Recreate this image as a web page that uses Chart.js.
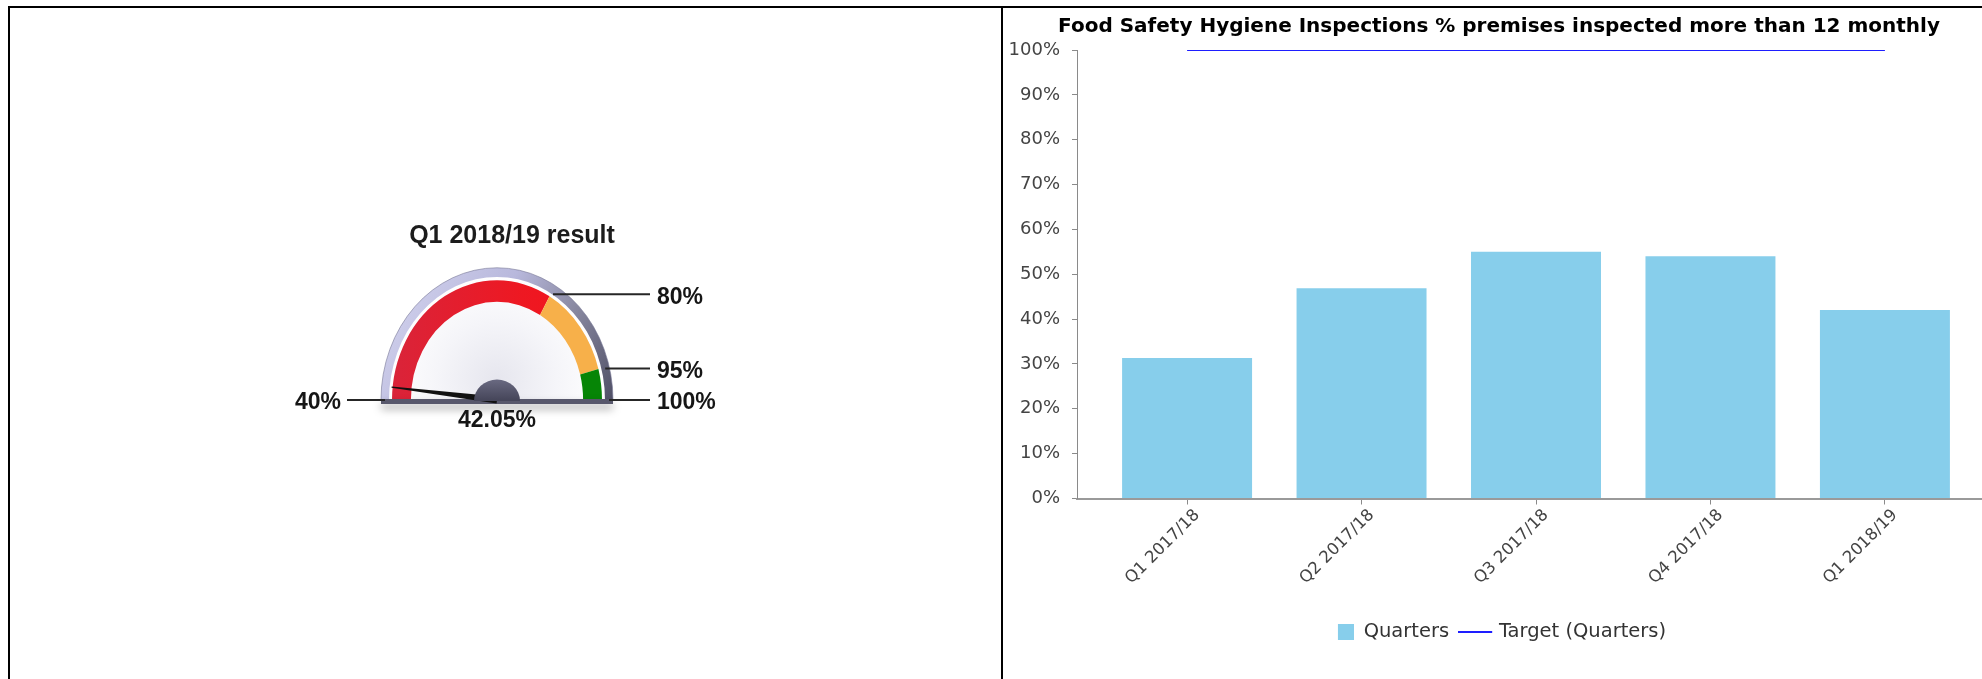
<!DOCTYPE html>
<html>
<head>
<meta charset="utf-8">
<title>Food Safety Hygiene Inspections</title>
<script src="https://cdn.jsdelivr.net/npm/chart.js@4.4.1/dist/chart.umd.min.js"></script>
<style>
  html, body { margin: 0; padding: 0; width: 1982px; height: 679px; overflow: hidden; background: #fff; }
  .rule { position: absolute; background: #000; }
  #ruleTop { left: 8px; top: 6px; width: 1974px; height: 2px; }
  #ruleLeft { left: 8px; top: 6px; width: 2px; height: 673px; }
  #ruleMid { left: 1001px; top: 6px; width: 2px; height: 673px; }
  #gaugeCanvas { position: absolute; left: 10px; top: 8px; }
  #barCanvas { position: absolute; left: 1003px; top: 8px; }
</style>
</head>
<body>
<div class="rule" id="ruleTop"></div>
<div class="rule" id="ruleLeft"></div>
<div class="rule" id="ruleMid"></div>
<canvas id="gaugeCanvas" width="991" height="671"></canvas>
<canvas id="barCanvas" width="992" height="671"></canvas>

<script>
// ---- Gauge data ----
const gaugeTitle = 'Q1 2018/19 result';
const gaugeMin = 40;
const gaugeMax = 100;
const gaugeValue = 42.05;
const bandLimits = [40, 80, 95, 100];
const bandNames = ['Below 80%', '80% to 95%', '95% to 100%'];
const scaleMarks = [40, 80, 95, 100];

// ---- Bar chart data ----
const chartTitle = 'Food Safety Hygiene Inspections % premises inspected more than 12 monthly';
const quarters = ['Q1 2017/18', 'Q2 2017/18', 'Q3 2017/18', 'Q4 2017/18', 'Q1 2018/19'];
const quarterResults = [31.3, 46.9, 55.0, 54.0, 42.05];
const targetValues = [100, 100, 100, 100, 100];
const percentTicks = [0, 10, 20, 30, 40, 50, 60, 70, 80, 90, 100];

Chart.defaults.font.family = '"DejaVu Sans", sans-serif';

// ===== Gauge =====
const DIAL_STRETCH = 1.14;      // dial face is drawn a little taller than wide
const LABEL_FONT = 'bold 23px "Liberation Sans", Arial, sans-serif';
const TITLE_FONT = 'bold 25px "Liberation Sans", Arial, sans-serif';

const gctx = document.getElementById('gaugeCanvas').getContext('2d');
const redGrad = gctx.createLinearGradient(380, 0, 600, 0);
redGrad.addColorStop(0, '#d9243a');
redGrad.addColorStop(0.6, '#ee1822');
redGrad.addColorStop(1, '#f5121a');
const bandColors = [redGrad, '#f7b04a', '#068506'];

const bandSizes = bandLimits.slice(1).map((v, i) => v - bandLimits[i]);

function valueAngle(v) {
  return Math.PI + (v - gaugeMin) / (gaugeMax - gaugeMin) * Math.PI;
}

const dialPlugin = {
  id: 'dialFace',
  beforeDatasetsDraw(chart) {
    const ctx = chart.ctx;
    const arc = chart.getDatasetMeta(0).data[0];
    const cx = arc.x, cy = arc.y, r = arc.outerRadius;
    const rxO = r + 11, ryO = rxO * DIAL_STRETCH;
    const rxI = r + 3, ryI = rxI * DIAL_STRETCH;

    // dial face
    ctx.save();
    const face = ctx.createRadialGradient(cx, cy - 20, 0, cx, cy - 20, rxI);
    face.addColorStop(0, '#e6e6ee');
    face.addColorStop(0.55, '#f5f5f9');
    face.addColorStop(1, '#ffffff');
    ctx.beginPath();
    ctx.ellipse(cx, cy, rxI, ryI, 0, Math.PI, 2 * Math.PI);
    ctx.closePath();
    ctx.fillStyle = face;
    ctx.fill();

    // bezel ring
    const bez = ctx.createLinearGradient(cx - rxO, cy - ryO, cx + rxO, cy);
    bez.addColorStop(0, '#d6d6f0');
    bez.addColorStop(0.45, '#b8b8dc');
    bez.addColorStop(0.72, '#86869e');
    bez.addColorStop(1, '#505066');
    ctx.beginPath();
    ctx.ellipse(cx, cy, rxO, ryO, 0, Math.PI, 2 * Math.PI);
    ctx.lineTo(cx + rxI, cy);
    ctx.ellipse(cx, cy, rxI, ryI, 0, 2 * Math.PI, Math.PI, true);
    ctx.closePath();
    ctx.fillStyle = bez;
    ctx.fill();
    ctx.strokeStyle = 'rgba(120,120,150,0.6)';
    ctx.lineWidth = 1;
    ctx.beginPath();
    ctx.ellipse(cx, cy, rxO, ryO, 0, Math.PI, 2 * Math.PI);
    ctx.stroke();
    ctx.restore();

    // colour bands are drawn in the stretched space
    ctx.save();
    ctx.translate(cx, cy);
    ctx.scale(1, DIAL_STRETCH);
    ctx.translate(-cx, -cy);
  },
  afterDatasetsDraw(chart) {
    const ctx = chart.ctx;
    ctx.restore();
    const arc = chart.getDatasetMeta(0).data[0];
    const cx = arc.x, cy = arc.y, r = arc.outerRadius;
    const rxO = r + 11;

    // base rim with shadow
    ctx.save();
    ctx.shadowColor = 'rgba(0,0,0,0.35)';
    ctx.shadowBlur = 9;
    ctx.shadowOffsetY = 5;
    ctx.fillStyle = '#58586c';
    ctx.fillRect(cx - rxO, cy - 1, rxO * 2, 5);
    ctx.restore();

    // needle
    const a = valueAngle(gaugeValue);
    const tipX = cx + (r + 1) * Math.cos(a);
    const tipY = cy + (r + 1) * DIAL_STRETCH * Math.sin(a);
    const dx = tipX - cx, dy = tipY - cy, len = Math.hypot(dx, dy);
    const px = -dy / len, py = dx / len;
    ctx.save();
    ctx.beginPath();
    ctx.moveTo(cx + px * 3.5, cy + py * 3.5);
    ctx.lineTo(tipX + px * 0.6, tipY + py * 0.6);
    ctx.lineTo(tipX - px * 0.6, tipY - py * 0.6);
    ctx.lineTo(cx - px * 3.5, cy - py * 3.5);
    ctx.closePath();
    ctx.fillStyle = '#111';
    ctx.fill();

    // hub
    const hub = ctx.createLinearGradient(0, cy - 22, 0, cy);
    hub.addColorStop(0, '#6c6c84');
    hub.addColorStop(1, '#46465a');
    ctx.beginPath();
    ctx.ellipse(cx, cy + 1, 23, 21.5, 0, Math.PI, 2 * Math.PI);
    ctx.closePath();
    ctx.fillStyle = hub;
    ctx.fill();
    ctx.restore();

    // scale marks with leader lines
    ctx.save();
    ctx.font = LABEL_FONT;
    ctx.fillStyle = '#161616';
    ctx.strokeStyle = '#262626';
    ctx.lineWidth = 2;
    ctx.textBaseline = 'middle';
    scaleMarks.forEach(m => {
      const ang = valueAngle(m);
      const ax = cx + 112 * Math.cos(ang);
      const ay = cy + 122 * Math.sin(ang);
      const onLeft = Math.cos(ang) < -0.5;
      ctx.beginPath();
      if (onLeft) {
        ctx.moveTo(cx - 150, ay);
        ctx.lineTo(ax, ay);
        ctx.stroke();
        ctx.textAlign = 'right';
        ctx.fillText(m + '%', cx - 156, ay + 3);
      } else {
        ctx.moveTo(ax, ay);
        ctx.lineTo(cx + 153, ay);
        ctx.stroke();
        ctx.textAlign = 'left';
        ctx.fillText(m + '%', cx + 160, ay + 3);
      }
    });

    // value and title
    ctx.textAlign = 'center';
    ctx.textBaseline = 'alphabetic';
    ctx.fillText(gaugeValue.toFixed(2) + '%', cx, cy + 27);
    ctx.font = TITLE_FONT;
    ctx.fillStyle = '#1c1c1c';
    ctx.fillText(gaugeTitle, cx + 15, cy - 157);
    ctx.restore();
  }
};

new Chart(gctx, {
  type: 'doughnut',
  data: {
    labels: bandNames,
    datasets: [{ data: bandSizes, backgroundColor: bandColors, borderWidth: 0, hoverOffset: 0 }]
  },
  options: {
    responsive: false,
    animation: false,
    events: [],
    devicePixelRatio: 1,
    rotation: -90,
    circumference: 180,
    cutout: '82%',
    layout: { padding: { left: 382, right: 399, top: 287, bottom: 279 } },
    plugins: { legend: { display: false }, tooltip: { enabled: false }, title: { display: false } }
  },
  plugins: [dialPlugin]
});

// ===== Bar chart =====
const BAR_BLUE = '#87ceeb';
const TARGET_BLUE = '#1e1eff';

// legend swatches: a square sitting at the right of its box, and a short line
function swatch(w, h, color, x0, y0, sw, sh) {
  const c = document.createElement('canvas');
  c.width = w; c.height = h;
  const x = c.getContext('2d');
  x.fillStyle = color;
  x.fillRect(x0, y0, sw, sh);
  return c;
}
const legendSwatches = [
  swatch(22, 16, BAR_BLUE, 6, 0, 16, 16),
  swatch(40, 2, TARGET_BLUE, 0, 0, 34, 2)
];

new Chart(document.getElementById('barCanvas'), {
  type: 'bar',
  data: {
    datasets: [
      {
        type: 'bar',
        label: 'Quarters',
        data: quarters.map((q, i) => ({ x: i, y: quarterResults[i] })),
        backgroundColor: BAR_BLUE,
        borderWidth: 0,
        categoryPercentage: 1,
        barPercentage: 0.745
      },
      {
        type: 'line',
        label: 'Target (Quarters)',
        data: quarters.map((q, i) => ({ x: i, y: targetValues[i] })),
        borderColor: TARGET_BLUE,
        backgroundColor: TARGET_BLUE,
        borderWidth: 2,
        pointRadius: 0,
        fill: false
      }
    ]
  },
  options: {
    responsive: false,
    animation: false,
    events: [],
    devicePixelRatio: 1,
    layout: { padding: { left: 0, right: 0, top: 0, bottom: 27 } },
    scales: {
      x: {
        type: 'linear',
        offset: false,
        min: -0.631,
        max: 4.631,
        afterBuildTicks: s => { s.ticks = quarters.map((q, i) => ({ value: i })); },
        afterFit: s => { s.height = 106; },
        ticks: {
          callback: v => quarters[v],
          autoSkip: false,
          minRotation: 45,
          maxRotation: 45,
          padding: 1,
          labelOffset: 10,
          color: '#444',
          font: { size: 16.5 }
        },
        grid: { offset: false, drawOnChartArea: false, tickLength: 6, color: '#8a8a8a' },
        border: { color: '#9a9a9a', width: 2 }
      },
      y: {
        min: 0,
        max: 100,
        afterBuildTicks: s => { s.ticks = percentTicks.map(v => ({ value: v })); },
        afterFit: s => { s.width = 74; },
        ticks: {
          callback: v => v + '%',
          padding: 12,
          color: '#444',
          font: { size: 18 }
        },
        grid: { drawOnChartArea: false, tickLength: 5, color: '#8a8a8a' },
        border: { color: '#8a8a8a', width: 1 }
      }
    },
    plugins: {
      title: {
        display: true,
        text: chartTitle,
        color: '#000',
        font: { size: 20, weight: 'bold' },
        padding: { top: 7, bottom: 11 }
      },
      legend: {
        position: 'bottom',
        labels: {
          usePointStyle: true,
          pointStyleWidth: 22,
          boxHeight: 20,
          padding: 18,
          color: '#333',
          font: { size: 19.5 },
          generateLabels(chart) {
            const items = Chart.defaults.plugins.legend.labels.generateLabels(chart);
            items.forEach(it => { it.pointStyle = legendSwatches[it.datasetIndex]; });
            return items;
          }
        }
      },
      tooltip: { enabled: false }
    }
  }
});
</script>
</body>
</html>
